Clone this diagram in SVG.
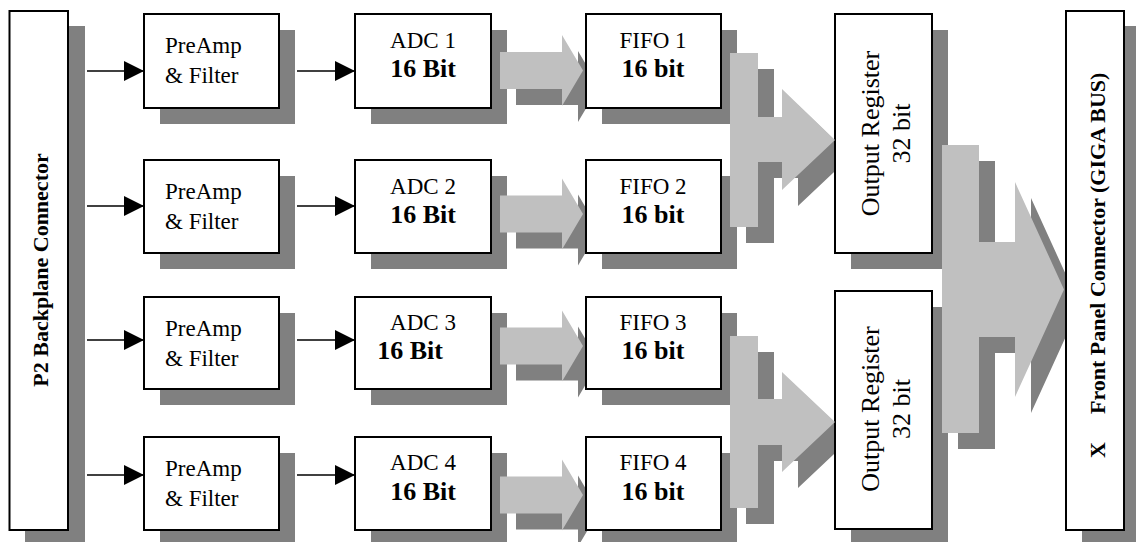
<svg xmlns="http://www.w3.org/2000/svg" width="1136" height="542" viewBox="0 0 1136 542">
<style>
.box{fill:#fff;stroke:#000;stroke-width:2}
.sh{fill:#808080}
.fat{fill:#c0c0c0}
.ln{stroke:#000;stroke-width:1.6;fill:none}
.t{font-family:"Liberation Serif","Times New Roman",serif;font-size:23px;fill:#000}
.b{font-family:"Liberation Serif","Times New Roman",serif;font-size:26px;font-weight:bold;fill:#000}
.m{text-anchor:middle}
.v{font-family:"Liberation Serif","Times New Roman",serif;font-size:22px;font-weight:bold;fill:#000}
.o{font-family:"Liberation Serif","Times New Roman",serif;font-size:26px;fill:#000;text-anchor:middle}
</style>
<defs>
<marker id="ah" markerUnits="userSpaceOnUse" markerWidth="20" markerHeight="20" refX="20" refY="10" orient="auto">
<path d="M0,0 L20,10 L0,20 z" fill="#000"/>
</marker>
<polygon id="fa" points="0,-18.5 62,-18.5 62,-35.5 83,0 62,35.5 62,18.5 0,18.5"/>
</defs>

<g id="shadows" class="sh">
<rect x="25" y="26" width="60" height="516"/>
<rect x="160" y="30" width="135" height="94"/>
<rect x="160" y="176" width="135" height="93"/>
<rect x="160" y="313" width="135" height="92"/>
<rect x="160" y="453" width="135" height="93"/>
<rect x="371" y="30" width="136" height="94"/>
<rect x="371" y="176" width="136" height="93"/>
<rect x="371" y="313" width="136" height="92"/>
<rect x="371" y="453" width="136" height="93"/>
<use href="#fa" x="516" y="86.5"/>
<use href="#fa" x="516" y="230"/>
<use href="#fa" x="516" y="362"/>
<use href="#fa" x="516" y="511"/>
<rect x="602" y="30" width="135" height="94"/>
<rect x="602" y="176" width="135" height="93"/>
<rect x="602" y="313" width="135" height="92"/>
<rect x="602" y="453" width="135" height="93"/>
<polygon points="746,69 774,69 774,133 798,133 798,105 851,156 798,206 798,178 774,178 774,243 746,243"/>
<polygon points="746,352 774,352 774,415 798,415 798,388 851,438 798,488 798,461 774,461 774,524 746,524"/>
<rect x="851" y="30" width="97" height="239"/>
<rect x="851" y="307" width="97" height="238"/>
<polygon points="958,161 995,161 995,258 1031,258 1031,198 1080,305.5 1031,413 1031,353 995,353 995,449 958,449"/>
<rect x="1082" y="26" width="60" height="520"/>
</g>

<g id="p2" >
<rect class="box" x="9.5" y="11" width="58.5" height="519"/>
<text class="v m" transform="translate(48,270) rotate(-90)">P2 Backplane Connector</text>
</g>

<g id="preamp1"><rect class="box" x="144" y="14" width="135" height="94"/><text class="t" x="165" y="52.5">PreAmp</text><text class="t" x="165" y="82.5">&amp; Filter</text></g>
<g id="preamp2"><rect class="box" x="144" y="160" width="135" height="93"/><text class="t" x="165" y="198.5">PreAmp</text><text class="t" x="165" y="228.5">&amp; Filter</text></g>
<g id="preamp3"><rect class="box" x="144" y="297" width="135" height="92"/><text class="t" x="165" y="335.5">PreAmp</text><text class="t" x="165" y="365.5">&amp; Filter</text></g>
<g id="preamp4"><rect class="box" x="144" y="437" width="135" height="93"/><text class="t" x="165" y="475.5">PreAmp</text><text class="t" x="165" y="505.5">&amp; Filter</text></g>

<g id="adc1"><rect class="box" x="355" y="14" width="136" height="94"/><text class="t m" x="423" y="47.5">ADC 1</text><text class="b m" x="423" y="77">16 Bit</text></g>
<g id="adc2"><rect class="box" x="355" y="160" width="136" height="93"/><text class="t m" x="423" y="193.5">ADC 2</text><text class="b m" x="423" y="223">16 Bit</text></g>
<g id="adc3"><rect class="box" x="355" y="297" width="136" height="92"/><text class="t m" x="423" y="330">ADC 3</text><text class="b m" x="410" y="359">16 Bit</text></g>
<g id="adc4"><rect class="box" x="355" y="437" width="136" height="93"/><text class="t m" x="423" y="470">ADC 4</text><text class="b m" x="423" y="500">16 Bit</text></g>

<g id="fifo1"><rect class="box" x="586" y="14" width="135" height="94"/><text class="t m" x="653" y="47.5">FIFO 1</text><text class="b m" x="653" y="77">16 bit</text></g>
<g id="fifo2"><rect class="box" x="586" y="160" width="135" height="93"/><text class="t m" x="653" y="193.5">FIFO 2</text><text class="b m" x="653" y="223">16 bit</text></g>
<g id="fifo3"><rect class="box" x="586" y="297" width="135" height="92"/><text class="t m" x="653" y="330">FIFO 3</text><text class="b m" x="653" y="359">16 bit</text></g>
<g id="fifo4"><rect class="box" x="586" y="437" width="135" height="93"/><text class="t m" x="653" y="470">FIFO 4</text><text class="b m" x="653" y="500">16 bit</text></g>

<g id="outreg1"><rect class="box" x="835" y="14" width="97" height="239"/>
<text class="o" transform="translate(879,133.5) rotate(-90)">Output Register</text>
<text class="o" transform="translate(910,133.5) rotate(-90)">32 bit</text></g>
<g id="outreg2"><rect class="box" x="835" y="291" width="97" height="238"/>
<text class="o" transform="translate(879,409) rotate(-90)">Output Register</text>
<text class="o" transform="translate(910,409) rotate(-90)">32 bit</text></g>

<g id="frontpanel"><rect class="box" x="1066" y="11" width="58" height="519"/>
<text class="v" transform="translate(1105,0) rotate(-90)"><tspan x="-458">X</tspan><tspan x="-414">Front Panel Connector (GIGA BUS)</tspan></text></g>

<g id="connectors">
<line class="ln" x1="87" y1="71" x2="144" y2="71" marker-end="url(#ah)"/>
<line class="ln" x1="87" y1="206" x2="144" y2="206" marker-end="url(#ah)"/>
<line class="ln" x1="87" y1="340" x2="144" y2="340" marker-end="url(#ah)"/>
<line class="ln" x1="87" y1="475" x2="144" y2="475" marker-end="url(#ah)"/>
<line class="ln" x1="297" y1="71" x2="355" y2="71" marker-end="url(#ah)"/>
<line class="ln" x1="297" y1="206" x2="355" y2="206" marker-end="url(#ah)"/>
<line class="ln" x1="297" y1="340" x2="355" y2="340" marker-end="url(#ah)"/>
<line class="ln" x1="297" y1="475" x2="355" y2="475" marker-end="url(#ah)"/>
<g class="fat">
<use href="#fa" x="500" y="70.5"/>
<use href="#fa" x="500" y="214"/>
<use href="#fa" x="500" y="346"/>
<use href="#fa" x="500" y="495"/>
<polygon points="730,53 758,53 758,117 782,117 782,89 835,140 782,190 782,162 758,162 758,227 730,227"/>
<polygon points="730,336 758,336 758,399 782,399 782,372 835,422 782,472 782,445 758,445 758,508 730,508"/>
<polygon points="942,145 979,145 979,242 1015,242 1015,182 1064,289.5 1015,397 1015,337 979,337 979,433 942,433"/>
</g>
</g>
</svg>
